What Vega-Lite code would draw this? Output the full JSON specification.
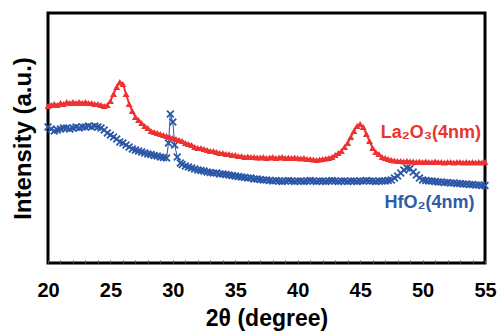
{
  "$schema": "https://vega.github.io/schema/vega-lite/v6.json",
  "width": 437,
  "height": 250,
  "autosize": "none",
  "padding": {"left": 48, "top": 13, "right": 13, "bottom": 71},
  "config": {
    "font": "Liberation Sans",
    "view": {"stroke": "black", "strokeWidth": 3}
  },
  "datasets": {
    "xrd": [
      {"s":"La","t":20.0,"i":157},{"s":"La","t":20.25,"i":158},{"s":"La","t":20.5,"i":159},{"s":"La","t":20.75,"i":158},
      {"s":"La","t":21.0,"i":160},{"s":"La","t":21.25,"i":159},{"s":"La","t":21.5,"i":161},{"s":"La","t":21.75,"i":160},
      {"s":"La","t":22.0,"i":161},{"s":"La","t":22.25,"i":160},{"s":"La","t":22.5,"i":161},{"s":"La","t":22.75,"i":160},
      {"s":"La","t":23.0,"i":161},{"s":"La","t":23.25,"i":160},{"s":"La","t":23.5,"i":160},{"s":"La","t":23.75,"i":159},
      {"s":"La","t":24.0,"i":159},{"s":"La","t":24.25,"i":158},{"s":"La","t":24.5,"i":157},{"s":"La","t":24.75,"i":158},
      {"s":"La","t":25.0,"i":162},{"s":"La","t":25.25,"i":169},{"s":"La","t":25.5,"i":176},{"s":"La","t":25.75,"i":181},
      {"s":"La","t":26.0,"i":179},{"s":"La","t":26.25,"i":169},{"s":"La","t":26.5,"i":159},{"s":"La","t":26.75,"i":152},
      {"s":"La","t":27.0,"i":146},{"s":"La","t":27.25,"i":143},{"s":"La","t":27.5,"i":140},{"s":"La","t":27.75,"i":137},
      {"s":"La","t":28.0,"i":135},{"s":"La","t":28.25,"i":132},{"s":"La","t":28.5,"i":131},{"s":"La","t":28.75,"i":130},
      {"s":"La","t":29.0,"i":129},{"s":"La","t":29.25,"i":128},{"s":"La","t":29.5,"i":127},{"s":"La","t":29.75,"i":126},
      {"s":"La","t":30.0,"i":125},{"s":"La","t":30.25,"i":124},{"s":"La","t":30.5,"i":123},{"s":"La","t":30.75,"i":122},
      {"s":"La","t":31.0,"i":120},{"s":"La","t":31.25,"i":119},{"s":"La","t":31.5,"i":118},{"s":"La","t":31.75,"i":116},
      {"s":"La","t":32.0,"i":115},{"s":"La","t":32.25,"i":115},{"s":"La","t":32.5,"i":114},{"s":"La","t":32.75,"i":113},
      {"s":"La","t":33.0,"i":112},{"s":"La","t":33.25,"i":112},{"s":"La","t":33.5,"i":111},{"s":"La","t":33.75,"i":110},
      {"s":"La","t":34.0,"i":110},{"s":"La","t":34.25,"i":109},{"s":"La","t":34.5,"i":109},{"s":"La","t":34.75,"i":108},
      {"s":"La","t":35.0,"i":108},{"s":"La","t":35.25,"i":107},{"s":"La","t":35.5,"i":107},{"s":"La","t":35.75,"i":106},
      {"s":"La","t":36.0,"i":106.5},{"s":"La","t":36.25,"i":106},{"s":"La","t":36.5,"i":106},{"s":"La","t":36.75,"i":105.5},
      {"s":"La","t":37.0,"i":105.5},{"s":"La","t":37.25,"i":106},{"s":"La","t":37.5,"i":105},{"s":"La","t":37.75,"i":105.5},
      {"s":"La","t":38.0,"i":106},{"s":"La","t":38.25,"i":105},{"s":"La","t":38.5,"i":105.5},{"s":"La","t":38.75,"i":106},
      {"s":"La","t":39.0,"i":105},{"s":"La","t":39.25,"i":105.5},{"s":"La","t":39.5,"i":105},{"s":"La","t":39.75,"i":105.5},
      {"s":"La","t":40.0,"i":105},{"s":"La","t":40.25,"i":104.5},{"s":"La","t":40.5,"i":105},{"s":"La","t":40.75,"i":104},
      {"s":"La","t":41.0,"i":104},{"s":"La","t":41.25,"i":103.5},{"s":"La","t":41.5,"i":103},{"s":"La","t":41.75,"i":103.5},
      {"s":"La","t":42.0,"i":104},{"s":"La","t":42.25,"i":104.5},{"s":"La","t":42.5,"i":105},{"s":"La","t":42.75,"i":106},
      {"s":"La","t":43.0,"i":108},{"s":"La","t":43.25,"i":110},{"s":"La","t":43.5,"i":112},{"s":"La","t":43.75,"i":116},
      {"s":"La","t":44.0,"i":120},{"s":"La","t":44.25,"i":126},{"s":"La","t":44.5,"i":132},{"s":"La","t":44.75,"i":137},
      {"s":"La","t":45.0,"i":139},{"s":"La","t":45.25,"i":136},{"s":"La","t":45.5,"i":129},{"s":"La","t":45.75,"i":122},
      {"s":"La","t":46.0,"i":115},{"s":"La","t":46.25,"i":111},{"s":"La","t":46.5,"i":109},{"s":"La","t":46.75,"i":106},
      {"s":"La","t":47.0,"i":105},{"s":"La","t":47.25,"i":104},{"s":"La","t":47.5,"i":103},{"s":"La","t":47.75,"i":102.5},
      {"s":"La","t":48.0,"i":102},{"s":"La","t":48.25,"i":102},{"s":"La","t":48.5,"i":101.5},{"s":"La","t":48.75,"i":102},
      {"s":"La","t":49.0,"i":101.5},{"s":"La","t":49.25,"i":101.5},{"s":"La","t":49.5,"i":101},{"s":"La","t":49.75,"i":101.5},
      {"s":"La","t":50.0,"i":101},{"s":"La","t":50.25,"i":101.5},{"s":"La","t":50.5,"i":101},{"s":"La","t":50.75,"i":101},
      {"s":"La","t":51.0,"i":101.5},{"s":"La","t":51.25,"i":101},{"s":"La","t":51.5,"i":101},{"s":"La","t":51.75,"i":100.5},
      {"s":"La","t":52.0,"i":101},{"s":"La","t":52.25,"i":101},{"s":"La","t":52.5,"i":100.5},{"s":"La","t":52.75,"i":101},
      {"s":"La","t":53.0,"i":101},{"s":"La","t":53.25,"i":100.5},{"s":"La","t":53.5,"i":101},{"s":"La","t":53.75,"i":100.5},
      {"s":"La","t":54.0,"i":101},{"s":"La","t":54.25,"i":100.5},{"s":"La","t":54.5,"i":101},{"s":"La","t":54.75,"i":100.5},
      {"s":"La","t":55.0,"i":101},

      {"s":"Hf","t":20.0,"i":136},{"s":"Hf","t":20.25,"i":134},{"s":"Hf","t":20.5,"i":132},{"s":"Hf","t":20.75,"i":133},
      {"s":"Hf","t":21.0,"i":134},{"s":"Hf","t":21.25,"i":135},{"s":"Hf","t":21.5,"i":135},{"s":"Hf","t":21.75,"i":134},
      {"s":"Hf","t":22.0,"i":135},{"s":"Hf","t":22.25,"i":136},{"s":"Hf","t":22.5,"i":135},{"s":"Hf","t":22.75,"i":136},
      {"s":"Hf","t":23.0,"i":136},{"s":"Hf","t":23.25,"i":137},{"s":"Hf","t":23.5,"i":136},{"s":"Hf","t":23.75,"i":137},
      {"s":"Hf","t":24.0,"i":136},{"s":"Hf","t":24.25,"i":135},{"s":"Hf","t":24.5,"i":133},{"s":"Hf","t":24.75,"i":130},
      {"s":"Hf","t":25.0,"i":128},{"s":"Hf","t":25.25,"i":126},{"s":"Hf","t":25.5,"i":124},{"s":"Hf","t":25.75,"i":121},
      {"s":"Hf","t":26.0,"i":120},{"s":"Hf","t":26.25,"i":118},{"s":"Hf","t":26.5,"i":116},{"s":"Hf","t":26.75,"i":114},
      {"s":"Hf","t":27.0,"i":113},{"s":"Hf","t":27.25,"i":112},{"s":"Hf","t":27.5,"i":111},{"s":"Hf","t":27.75,"i":110},
      {"s":"Hf","t":28.0,"i":109},{"s":"Hf","t":28.25,"i":108.5},{"s":"Hf","t":28.5,"i":107.5},{"s":"Hf","t":28.75,"i":107},
      {"s":"Hf","t":29.0,"i":106},{"s":"Hf","t":29.25,"i":105.5},{"s":"Hf","t":29.5,"i":105},{"s":"Hf","t":29.65,"i":120},
      {"s":"Hf","t":29.8,"i":149},{"s":"Hf","t":30.0,"i":141},{"s":"Hf","t":30.15,"i":118},{"s":"Hf","t":30.35,"i":106},
      {"s":"Hf","t":30.6,"i":100},{"s":"Hf","t":30.75,"i":98.5},{"s":"Hf","t":31.0,"i":97},{"s":"Hf","t":31.25,"i":96},
      {"s":"Hf","t":31.5,"i":95},{"s":"Hf","t":31.75,"i":94},{"s":"Hf","t":32.0,"i":93},{"s":"Hf","t":32.25,"i":92.5},
      {"s":"Hf","t":32.5,"i":92},{"s":"Hf","t":32.75,"i":91},{"s":"Hf","t":33.0,"i":90.5},{"s":"Hf","t":33.25,"i":90},
      {"s":"Hf","t":33.5,"i":90},{"s":"Hf","t":33.75,"i":89},{"s":"Hf","t":34.0,"i":89},{"s":"Hf","t":34.25,"i":88.5},
      {"s":"Hf","t":34.5,"i":88},{"s":"Hf","t":34.75,"i":87.5},{"s":"Hf","t":35.0,"i":87},{"s":"Hf","t":35.25,"i":86.5},
      {"s":"Hf","t":35.5,"i":86},{"s":"Hf","t":35.75,"i":85.5},{"s":"Hf","t":36.0,"i":85},{"s":"Hf","t":36.25,"i":85},
      {"s":"Hf","t":36.5,"i":84},{"s":"Hf","t":36.75,"i":84},{"s":"Hf","t":37.0,"i":83.5},{"s":"Hf","t":37.25,"i":83},
      {"s":"Hf","t":37.5,"i":83},{"s":"Hf","t":37.75,"i":82.5},{"s":"Hf","t":38.0,"i":82},{"s":"Hf","t":38.25,"i":82.5},
      {"s":"Hf","t":38.5,"i":82},{"s":"Hf","t":38.75,"i":81.5},{"s":"Hf","t":39.0,"i":82},{"s":"Hf","t":39.25,"i":82.5},
      {"s":"Hf","t":39.5,"i":82},{"s":"Hf","t":39.75,"i":81.5},{"s":"Hf","t":40.0,"i":82},{"s":"Hf","t":40.25,"i":82},
      {"s":"Hf","t":40.5,"i":81.5},{"s":"Hf","t":40.75,"i":82},{"s":"Hf","t":41.0,"i":82.5},{"s":"Hf","t":41.25,"i":82},
      {"s":"Hf","t":41.5,"i":81.5},{"s":"Hf","t":41.75,"i":82},{"s":"Hf","t":42.0,"i":82},{"s":"Hf","t":42.25,"i":81.5},
      {"s":"Hf","t":42.5,"i":82},{"s":"Hf","t":42.75,"i":82.5},{"s":"Hf","t":43.0,"i":82},{"s":"Hf","t":43.25,"i":81.5},
      {"s":"Hf","t":43.5,"i":82},{"s":"Hf","t":43.75,"i":82},{"s":"Hf","t":44.0,"i":81.5},{"s":"Hf","t":44.25,"i":82},
      {"s":"Hf","t":44.5,"i":82},{"s":"Hf","t":44.75,"i":81.5},{"s":"Hf","t":45.0,"i":82},{"s":"Hf","t":45.25,"i":82},
      {"s":"Hf","t":45.5,"i":82.5},{"s":"Hf","t":45.75,"i":82},{"s":"Hf","t":46.0,"i":82},{"s":"Hf","t":46.25,"i":81.5},
      {"s":"Hf","t":46.5,"i":82},{"s":"Hf","t":46.75,"i":82},{"s":"Hf","t":47.0,"i":82},{"s":"Hf","t":47.25,"i":82.5},
      {"s":"Hf","t":47.5,"i":83},{"s":"Hf","t":47.75,"i":85},{"s":"Hf","t":48.0,"i":87},{"s":"Hf","t":48.25,"i":90},
      {"s":"Hf","t":48.5,"i":93},{"s":"Hf","t":48.75,"i":95},{"s":"Hf","t":49.0,"i":94.5},{"s":"Hf","t":49.25,"i":91},
      {"s":"Hf","t":49.5,"i":88},{"s":"Hf","t":49.75,"i":85},{"s":"Hf","t":50.0,"i":83},{"s":"Hf","t":50.25,"i":82.5},
      {"s":"Hf","t":50.5,"i":82},{"s":"Hf","t":50.75,"i":82},{"s":"Hf","t":51.0,"i":81.5},{"s":"Hf","t":51.25,"i":81},
      {"s":"Hf","t":51.5,"i":81},{"s":"Hf","t":51.75,"i":80.5},{"s":"Hf","t":52.0,"i":80.5},{"s":"Hf","t":52.25,"i":80},
      {"s":"Hf","t":52.5,"i":80},{"s":"Hf","t":52.75,"i":79.5},{"s":"Hf","t":53.0,"i":79.5},{"s":"Hf","t":53.25,"i":79},
      {"s":"Hf","t":53.5,"i":79},{"s":"Hf","t":53.75,"i":78.5},{"s":"Hf","t":54.0,"i":78.5},{"s":"Hf","t":54.25,"i":78},
      {"s":"Hf","t":54.5,"i":78},{"s":"Hf","t":54.75,"i":77.5},{"s":"Hf","t":55.0,"i":77.5}
    ],
    "labels": [
      {"t": 46.65, "i": 130, "label": "La₂O₃(4nm)", "s": "La"},
      {"t": 46.95, "i": 60, "label": "HfO₂(4nm)", "s": "Hf"}
    ]
  },
  "encoding": {
    "x": {
      "field": "t", "type": "quantitative",
      "scale": {"domain": [20, 55], "nice": false, "zero": false},
      "axis": {
        "title": "2θ (degree)",
        "titleFont": "Liberation Sans", "titleFontSize": 23, "titleFontWeight": "bold", "titleColor": "black",
        "titlePadding": 7,
        "values": [20,21,22,23,24,25,26,27,28,29,30,31,32,33,34,35,36,37,38,39,40,41,42,43,44,45,46,47,48,49,50,51,52,53,54,55],
        "labelExpr": "datum.value % 5 === 0 ? datum.label : ''",
        "labelFont": "Liberation Sans", "labelFontSize": 20, "labelFontWeight": "bold", "labelColor": "black",
        "labelPadding": 20, "labelFlush": false, "labelOverlap": false,
        "tickSize": -3, "tickColor": "#555", "tickWidth": 1,
        "domain": false, "grid": false
      }
    },
    "y": {
      "field": "i", "type": "quantitative",
      "scale": {"domain": [0, 250], "nice": false},
      "axis": {
        "title": "Intensity (a.u.)",
        "titleFont": "Liberation Sans", "titleFontSize": 24, "titleFontWeight": "bold", "titleColor": "black",
        "titlePadding": 13,
        "labels": false, "ticks": false, "domain": false, "grid": false
      }
    }
  },
  "layer": [
    {
      "data": {"name": "xrd"},
      "transform": [{"filter": "datum.s === 'Hf'"}],
      "mark": {"type": "line", "color": "#2b57a7", "strokeWidth": 1},
      "encoding": {}
    },
    {
      "data": {"name": "xrd"},
      "transform": [{"filter": "datum.s === 'Hf'"}],
      "mark": {"type": "point", "shape": "M-1,-1L1,1M-1,1L1,-1", "filled": false, "stroke": "#2b57a7", "strokeWidth": 1.8, "size": 46, "opacity": 1}
    },
    {
      "data": {"name": "xrd"},
      "transform": [{"filter": "datum.s === 'La'"}],
      "mark": {"type": "line", "color": "#ee3232", "strokeWidth": 2},
      "encoding": {}
    },
    {
      "data": {"name": "xrd"},
      "transform": [{"filter": "datum.s === 'La'"}],
      "mark": {"type": "point", "shape": "triangle-up", "filled": true, "fill": "#ee3232", "size": 48, "opacity": 1}
    },
    {
      "data": {"name": "labels"},
      "mark": {"type": "text", "align": "left", "baseline": "middle", "font": "Liberation Sans", "fontSize": 18, "fontWeight": "bold"},
      "encoding": {
        "text": {"field": "label"},
        "color": {"field": "s", "type": "nominal", "scale": {"domain": ["La", "Hf"], "range": ["#e8352e", "#2f5ba8"]}, "legend": null}
      }
    }
  ]
}
